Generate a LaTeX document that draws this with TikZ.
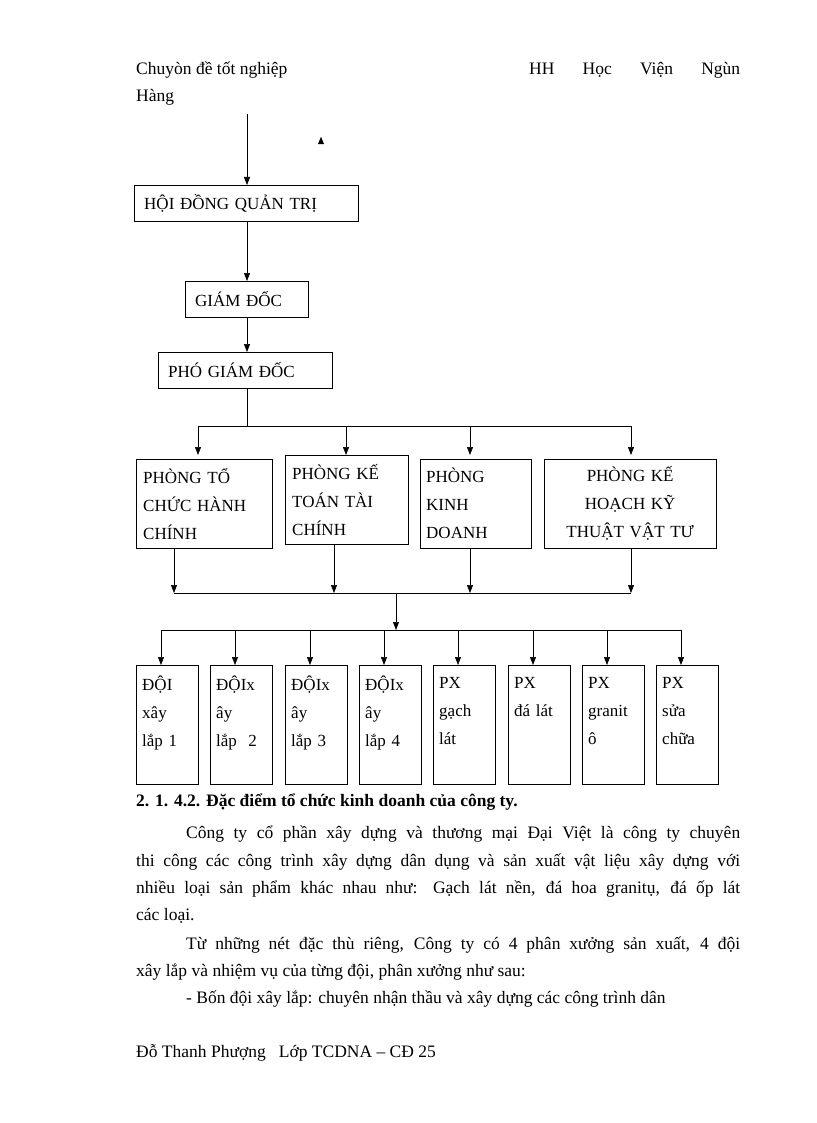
\documentclass[tikz,border=0pt]{standalone}
\usepackage{fontspec}
\setmainfont{Liberation Serif}
\usetikzlibrary{positioning,arrows.meta,shapes.geometric}
\tikzset{
  box/.style={draw, rectangle, inner sep=0pt, anchor=north west,
              font=\fontsize{17}{28}\selectfont},
  txt/.style={anchor=base west, inner sep=0pt, font=\fontsize{17.5}{20}\selectfont},
  myarrow/.style={-{Triangle[length=8pt,width=6pt]}, line width=0.7pt},
  bus/.style={line width=0.7pt},
}
\newcommand{\jl}[2]{\makebox[#1pt][s]{#2}}
\begin{document}
\begin{tikzpicture}[x=1pt,y=-1pt]
  \useasboundingbox (0,0) rectangle (816,1123);

  % Kopfzeile
  \node[txt] (head1) at (136,75) {Chuyòn đề tốt nghiệp};
  \node[txt] (head2) at (529,75) {\jl{211}{HH Học Viện Ngùn}};
  \node[txt] (head3) at (136,102) {Hàng};

  % Leitung
  \node[box, minimum width=224pt, minimum height=36pt, text width=210pt, align=left] (hdqt) at (134,185) {\hspace{3pt}HỘI ĐỒNG QUẢN TRỊ};
  \node[box, minimum width=123pt, minimum height=36pt, text width=113pt, align=left] (gd) at (185,281) {\hspace{5pt}GIÁM ĐỐC};
  \node[box, minimum width=174pt, minimum height=36pt, text width=164pt, align=left] (pgd) at (158,352) {\hspace{5pt}PHÓ GIÁM ĐỐC};
  \coordinate (top) at (247,114);
  \node[fill, isosceles triangle, shape border rotate=90, minimum size=6pt, inner sep=0pt] (tri) at (321,142) {};
  \draw[myarrow] (top) -- (247,185);
  \draw[myarrow] (247,221) -- (247,281);
  \draw[myarrow] (247,317) -- (247,352);

  % Phòng
  \node[box, minimum width=136pt, minimum height=89pt, text width=122pt] (p1) at (136,459)
    {\jl{122}{PHÒNG TỔ}\\ \jl{122}{CHỨC HÀNH}\\ CHÍNH};
  \node[box, minimum width=123pt, minimum height=89pt, text width=109pt] (p2) at (285,455)
    {\jl{109}{PHÒNG KẾ}\\ \jl{109}{TOÁN TÀI}\\ CHÍNH};
  \node[box, minimum width=111pt, minimum height=89pt, text width=99pt] (p3) at (420,459)
    {PHÒNG\\ KINH\\ DOANH};
  \node[box, minimum width=172pt, minimum height=89pt, text width=160pt, align=center] (p4) at (544,459)
    {PHÒNG KẾ\\ HOẠCH KỸ\\ THUẬT VẬT TƯ};

  \coordinate (b1) at (247,426);
  \draw[bus] (pgd.south -| b1) -- (b1);
  \draw[bus] (198,426) -- (631,426);
  \foreach \x in {198,346,470,631}
    \draw[myarrow] (\x,426) -- (\x,455);

  \coordinate (b2) at (396,593);
  \draw[bus] (174,593) -- (631,593);
  \draw[myarrow] (p1.south -| 174,0) -- (174,593);
  \draw[myarrow] (p2.south -| 334,0) -- (334,593);
  \draw[myarrow] (p3.south -| 470,0) -- (470,593);
  \draw[myarrow] (p4.south -| 631,0) -- (631,593);
  \draw[myarrow] (b2) -- (396,630);

  % Đội und PX
  \draw[bus] (161,630) -- (681,630);
  \foreach \x/\t [count=\i] in {136/{ĐỘI\\ xây\\ lắp 1},
                              210/{ĐỘIx\\ ây\\ lắp~~2},
                              285/{ĐỘIx\\ ây\\ lắp 3},
                              359/{ĐỘIx\\ ây\\ lắp 4},
                              433/{PX\\ gạch\\ lát},
                              508/{PX\\ đá lát\\ ~},
                              582/{PX\\ granit\\ ô},
                              656/{PX\\ sửa\\ chữa}} {
    \node[box, inner xsep=6pt, minimum width=62pt, minimum height=119pt, text width=50pt, align=left] (d\i) at (\x,665) {\t\\ ~};
    \draw[myarrow] (\x+25,630) -- (d\i.north -| \x+25,0);
  }

  % Text
  \node[txt, font=\fontsize{17.5}{20}\selectfont\bfseries] (h) at (136,806) {2. 1. 4.2. Đặc điểm tổ chức kinh doanh của công ty.};
  \node[txt] (l1) at (186,838) {\jl{554}{Công ty cổ phần xây dựng và thương mại Đại Việt là công ty chuyên}};
  \node[txt] (l2) at (136,866) {\jl{604}{thi công các công trình xây dựng dân dụng và sản xuất vật liệu xây dựng với}};
  \node[txt] (l3) at (136,893) {\jl{604}{nhiều loại sản phẩm khác nhau như: Gạch lát nền, đá hoa granitụ, đá ốp lát}};
  \node[txt] (l4) at (136,920) {các loại.};
  \node[txt] (l5) at (186,949) {\jl{554}{Từ những nét đặc thù riêng, Công ty có 4 phân xưởng sản xuất, 4 đội}};
  \node[txt] (l6) at (136,976) {xây lắp và nhiệm vụ của từng đội, phân xưởng như sau:};
  \node[txt] (l7) at (186,1003) {- Bốn đội xây lắp: chuyên nhận thầu và xây dựng các công trình dân};

  % Fußzeile
  \node[txt] (foot) at (136,1057) {Đỗ Thanh Phượng~~ Lớp TCDNA -- CĐ 25};
\end{tikzpicture}
\end{document}
